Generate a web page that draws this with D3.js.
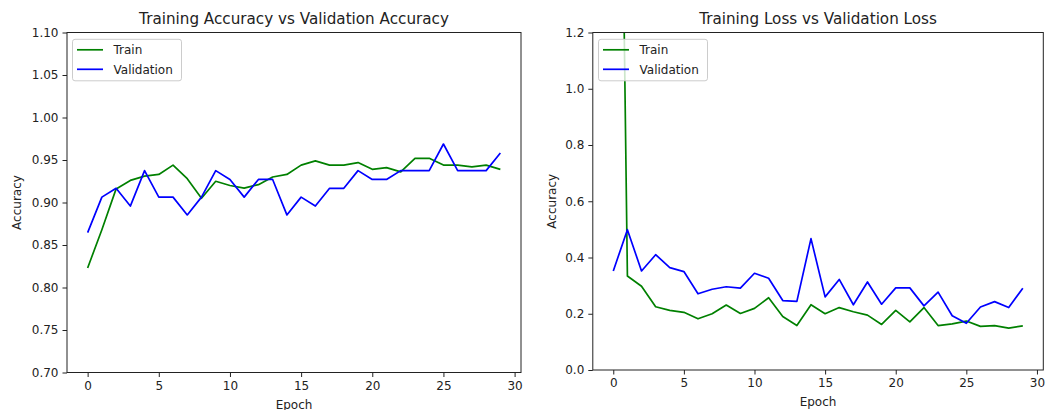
<!DOCTYPE html>
<html><head><meta charset="utf-8">
<script src="https://cdn.jsdelivr.net/npm/d3@7"></script>
<style>
body{margin:0;background:#fff;}
svg{display:block;font-family:"DejaVu Sans",sans-serif;}
</style></head>
<body>
<svg id="c" width="1046" height="410"></svg>
<script>
const epochs = d3.range(0, 30);
const trainAcc = [0.823,0.868,0.916,0.926,0.931,0.933,0.944,0.928,0.905,0.925,0.920,0.917,0.921,0.930,0.933,0.944,0.949,0.944,0.944,0.947,0.939,0.941,0.936,0.952,0.952,0.944,0.944,0.942,0.944,0.939];
const valAcc = [0.8646,0.9063,0.9167,0.8958,0.9375,0.9063,0.9063,0.8854,0.9063,0.9375,0.9271,0.9063,0.9271,0.9271,0.8854,0.9063,0.8958,0.9167,0.9167,0.9375,0.9271,0.9271,0.9375,0.9375,0.9375,0.9688,0.9375,0.9375,0.9375,0.9583];
const trainLoss = [4.2,0.334,0.298,0.225,0.212,0.205,0.182,0.200,0.231,0.201,0.219,0.257,0.190,0.158,0.232,0.200,0.222,0.207,0.195,0.162,0.212,0.171,0.222,0.158,0.164,0.174,0.155,0.158,0.149,0.157];
const valLoss = [0.352,0.499,0.352,0.410,0.364,0.350,0.271,0.287,0.296,0.291,0.344,0.326,0.247,0.244,0.467,0.260,0.322,0.232,0.313,0.234,0.292,0.292,0.228,0.277,0.193,0.166,0.224,0.243,0.222,0.291];
const xTicks = [0,5,10,15,20,25,30];
const accTicks = [0.70,0.75,0.80,0.85,0.90,0.95,1.00,1.05,1.10];
const lossTicks = [0.0,0.2,0.4,0.6,0.8,1.0,1.2];

const svg = d3.select("#c");
const FS = 12;

function panel(cfg){
  const {x0,x1,y0,y1,ydom,yticks,yfmt,title,series,id,legendX} = cfg;
  const x = d3.scaleLinear().domain([-1.45,30.45]).range([x0,x1]);
  const y = d3.scaleLinear().domain(ydom).range([y1,y0]);
  const g = svg.append("g");
  g.append("clipPath").attr("id",id).append("rect")
    .attr("x",x0).attr("y",y0).attr("width",x1-x0).attr("height",y1-y0);
  const line = d3.line().x((d,i)=>x(epochs[i])).y(d=>y(d));
  series.forEach(s=>{
    g.append("path").datum(s.values).attr("d",line)
      .attr("fill","none").attr("stroke",s.color).attr("stroke-width",1.7)
      .attr("stroke-linejoin","round").attr("clip-path",`url(#${id})`);
  });
  const xa = g.append("g").attr("transform",`translate(0,${y1})`)
    .call(d3.axisBottom(x).tickValues(xTicks).tickSize(4.5).tickPadding(4).tickFormat(d3.format("d")));
  const ya = g.append("g").attr("transform",`translate(${x0},0)`)
    .call(d3.axisLeft(y).tickValues(yticks).tickSize(4.5).tickPadding(4).tickFormat(d3.format(yfmt)));
  [xa,ya].forEach(a=>{
    a.select(".domain").remove();
    a.selectAll("text").attr("font-size",FS).attr("fill","#222").attr("font-family","DejaVu Sans");
    a.selectAll("line").attr("stroke","#222").attr("stroke-width",1);
  });
  g.append("rect").attr("x",x0).attr("y",y0).attr("width",x1-x0).attr("height",y1-y0)
    .attr("fill","none").attr("stroke","#222").attr("stroke-width",1);
  g.append("text").attr("x",(x0+x1)/2).attr("y",y0-8.5).attr("text-anchor","middle")
    .attr("font-size",15.2).attr("fill","#222").text(title);
  g.append("text").attr("x",(x0+x1)/2).attr("y",y1+36).attr("text-anchor","middle")
    .attr("font-size",FS).attr("fill","#222").text("Epoch");
  g.append("text").attr("transform",`translate(${cfg.ylabX},${(y0+y1)/2}) rotate(-90)`)
    .attr("text-anchor","middle").attr("font-size",FS).attr("fill","#222").text("Accuracy");
  const lx = legendX, ly = y0+6.8;
  const lg = g.append("g");
  lg.append("rect").attr("x",lx).attr("y",ly).attr("width",109).attr("height",41.5)
    .attr("rx",2.5).attr("fill","#fff").attr("fill-opacity",0.8).attr("stroke","#ccc").attr("stroke-width",1);
  series.forEach((s,i)=>{
    const cy = ly + 10.5 + i*19.5;
    lg.append("line").attr("x1",lx+4.5).attr("x2",lx+30.5).attr("y1",cy).attr("y2",cy)
      .attr("stroke",s.color).attr("stroke-width",1.7);
    lg.append("text").attr("x",lx+41).attr("y",cy+4.3).attr("font-size",FS).attr("fill","#222").text(s.name);
  });
}

panel({id:"clipA",x0:67,x1:521,y0:32.5,y1:372.5,ydom:[0.70,1.10],yticks:accTicks,yfmt:".2f",
  title:"Training Accuracy vs Validation Accuracy",ylabX:21,legendX:72.5,
  series:[{name:"Train",color:"green",values:trainAcc},{name:"Validation",color:"blue",values:valAcc}]});
panel({id:"clipB",x0:592.8,x1:1043.3,y0:32.5,y1:370,ydom:[0,1.2],yticks:lossTicks,yfmt:".1f",
  title:"Training Loss vs Validation Loss",ylabX:556,legendX:598.5,
  series:[{name:"Train",color:"green",values:trainLoss},{name:"Validation",color:"blue",values:valLoss}]});
</script>
</body></html>
